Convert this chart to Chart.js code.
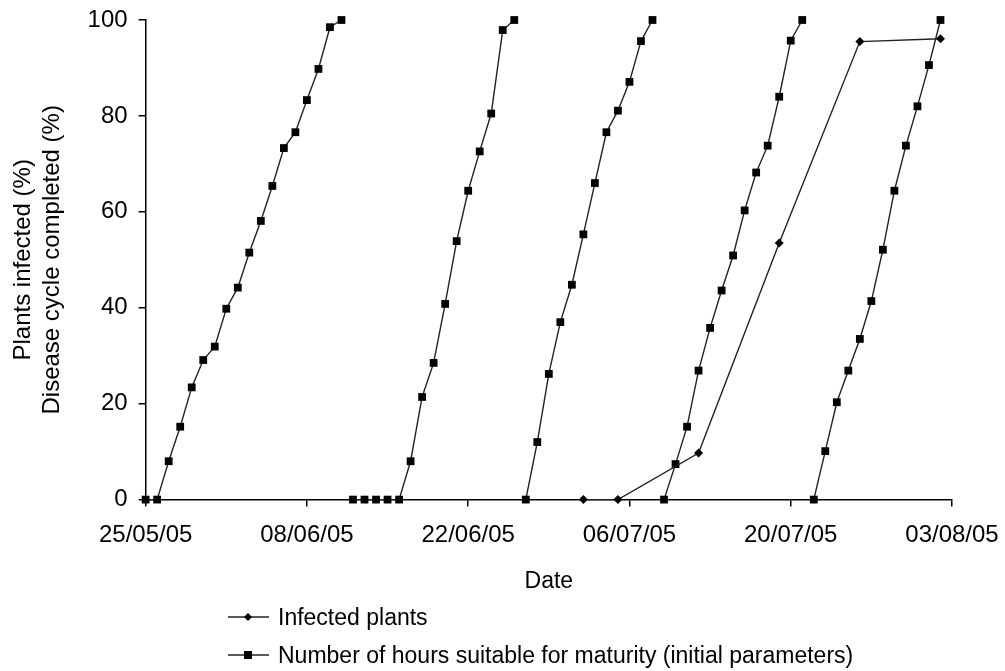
<!DOCTYPE html>
<html>
<head>
<meta charset="utf-8">
<script src="https://cdn.jsdelivr.net/npm/chart.js@4/dist/chart.umd.min.js"></script>
<style>
  html, body { margin: 0; padding: 0; background: #fff; }
  #wrap { position: relative; width: 1005px; height: 671px; }
  #chart { position: absolute; left: 0; top: 0; }
  .key { position: absolute; left: 228px; height: 30px; display: flex; align-items: center;
         font: 23px "Liberation Sans", Arial, sans-serif; color: #000; white-space: nowrap; }
  .key svg { margin-right: 8px; }
</style>
</head>
<body>
<div id="wrap">
  <canvas id="chart" width="1005" height="671"></canvas>
  <div class="key" style="top:602px">
    <svg width="42" height="16"><line x1="0" y1="8" x2="41" y2="8" stroke="#222" stroke-width="1.5"/>
      <path d="M20 4 L24 8 L20 12 L16 8 Z" fill="#000"/></svg>
    <span>Infected plants</span>
  </div>
  <div class="key" style="top:640px">
    <svg width="42" height="16"><line x1="0" y1="8" x2="41" y2="8" stroke="#222" stroke-width="1.5"/>
      <rect x="16" y="4" width="8" height="8" fill="#000"/></svg>
    <span>Number of hours suitable for maturity (initial parameters)</span>
  </div>
</div>
<script>
// x positions are days after 25/05/05
const tickDays = [0, 14, 28, 42, 56, 70];
const tickLabels = ["25/05/05", "08/06/05", "22/06/05", "06/07/05", "20/07/05", "03/08/05"];

const infectedDays = [38, 41, 48, 55, 62, 69];
const infectedPct = [0, 0, 9.7, 53.5, 95.5, 96.1];

// disease cycle completed (%), one array per cycle
const cycle1Days = [0, 1, 2, 3, 4, 5, 6, 7, 8, 9, 10, 11, 12, 13, 14, 15, 16, 17];
const cycle1Pct = [0, 0, 8.0, 15.2, 23.4, 29.1, 31.9, 39.8, 44.2, 51.5, 58.1, 65.4, 73.3, 76.6, 83.3, 89.8, 98.5, 100];
const cycle2Days = [18, 19, 20, 21, 22, 23, 24, 25, 26, 27, 28, 29, 30, 31, 32];
const cycle2Pct = [0, 0, 0, 0, 0, 8.0, 21.4, 28.5, 40.8, 53.9, 64.4, 72.6, 80.5, 97.9, 100];
const cycle3Days = [33, 34, 35, 36, 37, 38, 39, 40, 41, 42, 43, 44];
const cycle3Pct = [0, 12.0, 26.2, 37.0, 44.8, 55.3, 66.0, 76.6, 81.1, 87.1, 95.6, 100];
const cycle4Days = [45, 46, 47, 48, 49, 50, 51, 52, 53, 54, 55, 56, 57];
const cycle4Pct = [0, 7.4, 15.2, 26.9, 35.8, 43.6, 50.9, 60.3, 68.2, 73.8, 84.0, 95.7, 100];
const cycle5Days = [58, 59, 60, 61, 62, 63, 64, 65, 66, 67, 68, 69];
const cycle5Pct = [0, 10.1, 20.3, 26.9, 33.5, 41.4, 52.1, 64.4, 73.8, 82.0, 90.6, 100];

const pts = (xs, ys) => xs.map((x, i) => ({ x, y: ys[i] }));

Chart.defaults.font.family = '"Liberation Sans", Arial, sans-serif';
Chart.defaults.color = "#000";

const lineStyle = {
  borderColor: "#222", borderWidth: 1.4, backgroundColor: "#000",
  pointBackgroundColor: "#000", pointBorderWidth: 0,
  tension: 0, clip: false,
};
const cycleSet = (xs, ys) => ({
  ...lineStyle, label: "Number of hours suitable for maturity (initial parameters)",
  data: pts(xs, ys), pointStyle: "rect", pointRadius: 5.5,
});

new Chart(document.getElementById("chart"), {
  type: "line",
  data: {
    datasets: [
      { ...lineStyle, label: "Infected plants", data: pts(infectedDays, infectedPct),
        pointStyle: "rectRot", pointRadius: 4.5 },
      cycleSet(cycle1Days, cycle1Pct),
      cycleSet(cycle2Days, cycle2Pct),
      cycleSet(cycle3Days, cycle3Pct),
      cycleSet(cycle4Days, cycle4Pct),
      cycleSet(cycle5Days, cycle5Pct),
    ],
  },
  options: {
    responsive: false, animation: false,
    layout: { padding: { top: 20, right: 53, bottom: 76, left: 0 } },
    plugins: { legend: { display: false }, tooltip: { enabled: false } },
    scales: {
      x: {
        type: "linear", min: 0, max: 70,
        afterBuildTicks: (axis) => { axis.ticks = tickDays.map((v) => ({ value: v })); },
        // tall line height instead of tick padding keeps the end label from shrinking the plot
        ticks: {
          font: { size: 24, lineHeight: 2.367 }, padding: 0, maxRotation: 0, autoSkip: false,
          callback: (v) => tickLabels[tickDays.indexOf(v)],
        },
        grid: { drawOnChartArea: false, drawTicks: true, tickLength: 7, color: "#000", lineWidth: 1.5 },
        border: { color: "#000", width: 1.5 },
        title: { display: true, text: "Date", font: { size: 23 }, padding: { top: 4, bottom: 0 } },
      },
      y: {
        min: 0, max: 100,
        ticks: { stepSize: 20, font: { size: 24, lineHeight: 0.5 }, padding: 11 },
        grid: { drawOnChartArea: false, drawTicks: true, tickLength: 7, color: "#000", lineWidth: 1.5 },
        border: { color: "#000", width: 1.5 },
        title: {
          display: true, text: ["Plants infected (%)", "Disease cycle completed (%)"],
          font: { size: 24 }, padding: { top: 9, bottom: 10 },
        },
      },
    },
  },
});
</script>
</body>
</html>
